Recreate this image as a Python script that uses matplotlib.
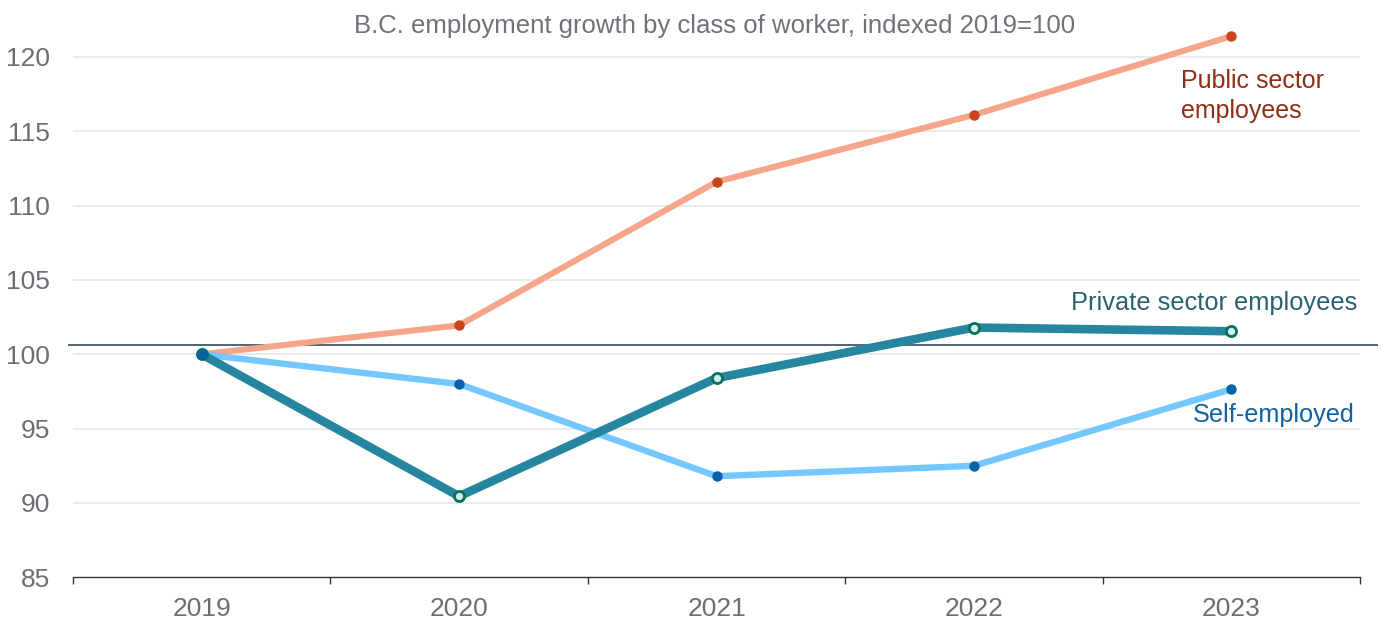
import matplotlib
matplotlib.use("Agg")
import matplotlib.pyplot as plt

plt.rcParams['font.family'] = ['Liberation Sans', 'DejaVu Sans']

years = ["2019", "2020", "2021", "2022", "2023"]
public_sector = [100.0, 101.95, 111.6, 116.1, 121.4]
private_sector = [100.0, 90.45, 98.4, 101.8, 101.55]
self_employed = [100.0, 98.0, 91.8, 92.5, 97.65]
y_ticks = [85, 90, 95, 100, 105, 110, 115, 120]
baseline_value = 100.6

fig = plt.figure(figsize=(13.81, 6.22), dpi=100)
ax = fig.add_axes([73 / 1381, (622 - 577.3) / 622, 1287 / 1381, (577.3 - 19.8) / 622])

x = list(range(len(years)))
ax.set_xlim(-0.5, len(years) - 0.5)
ax.set_ylim(85, 122.5)

# horizontal grid
for t in y_ticks[1:]:
    ax.axhline(t, color='#e6e6e6', lw=1.2, zorder=0)

# reference line
ax.axhline(baseline_value, xmin=-0.003, xmax=1.013, color='#4f6470', lw=1.4,
           clip_on=False, zorder=1)

ax.plot(x, public_sector, color='#f4a58a', lw=4.4, zorder=3, solid_capstyle='round')
ax.plot(x, public_sector, 'o', color='#c8441a', ms=6.5, zorder=4)

ax.plot(x, self_employed, color='#74c7ff', lw=4.6, zorder=3, solid_capstyle='round')
ax.plot(x, self_employed, 'o', color='#0762a7', ms=6.5, zorder=4)

ax.plot(x, private_sector, color='#26869f', lw=6.2, zorder=5, solid_capstyle='round')
ax.plot(x, private_sector, 'o', mfc='#cfeaf6', mec='#0a7155', mew=2.0, ms=7.3, zorder=6)
ax.plot(x[:1], self_employed[:1], 'o', color='#0762a7', ms=6.5, zorder=7)

# series labels
ax.text(3.805, 117.4, "Public sector\nemployees", color='#8f2e14', fontsize=18,
        ha='left', va='center', linespacing=1.32)
ax.text(4.49, 103.43, "Private sector employees", color='#2a6170', fontsize=18.3,
        ha='right', va='center')
ax.text(4.48, 95.9, "Self-employed", color='#0e62a0', fontsize=18.2,
        ha='right', va='center')

fig.text(715 / 1381, 1 - 26 / 622,
         "B.C. employment growth by class of worker, indexed 2019=100",
         color='#6e7379', fontsize=18.5, ha='center', va='center')

for s in ['top', 'right', 'left']:
    ax.spines[s].set_visible(False)
ax.spines['bottom'].set_color('#333333')
ax.spines['bottom'].set_linewidth(1.0)

ax.set_yticks(y_ticks)
ax.set_yticklabels([str(t) for t in y_ticks])
ax.tick_params(axis='y', length=0, pad=16.5, labelsize=19, labelcolor='#6b6f75')

ax.set_xticks([i - 0.5 for i in range(len(years) + 1)], minor=False)
ax.set_xticklabels([''] * (len(years) + 1))
ax.tick_params(axis='x', which='major', length=5, width=1.0, color='#333333')
ax.set_xticks(x, minor=True)
ax.set_xticklabels(years, minor=True)
ax.tick_params(axis='x', which='minor', length=0, pad=14, labelsize=19,
               labelcolor='#6b6f75')

fig.savefig("out.png", dpi=100)
